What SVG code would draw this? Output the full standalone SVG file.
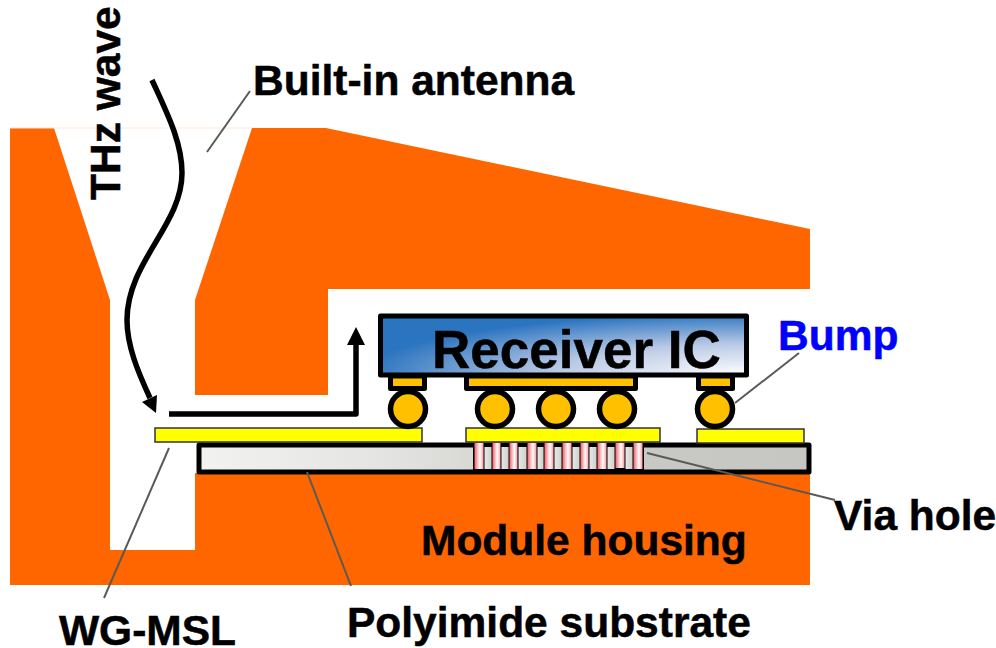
<svg xmlns="http://www.w3.org/2000/svg" width="996" height="648" viewBox="0 0 996 648">
<defs>
<radialGradient id="ic" cx="1" cy="1" r="1.05" fx="1" fy="1"><stop offset="0" stop-color="#ffffff"/><stop offset="0.5" stop-color="#b9c9e5"/><stop offset="1" stop-color="#2a74c0"/></radialGradient>
<linearGradient id="sub" x1="0" y1="0" x2="1" y2="0"><stop offset="0" stop-color="#f2f2f0"/><stop offset="0.3" stop-color="#e4e4e2"/><stop offset="0.65" stop-color="#c9cac5"/><stop offset="1" stop-color="#c6c7c2"/></linearGradient>
<linearGradient id="gap" x1="0" y1="0" x2="1" y2="0"><stop offset="0" stop-color="#e8e8e6"/><stop offset="1" stop-color="#cfcfcc"/></linearGradient>
<linearGradient id="via" x1="0" y1="0" x2="1" y2="0"><stop offset="0" stop-color="#f0606a"/><stop offset="0.6" stop-color="#ffffff"/><stop offset="1" stop-color="#f99aa0"/></linearGradient>
</defs>
<style>
text{font-family:"Liberation Sans",Arial,sans-serif;font-weight:700;fill:#000;stroke:#000;stroke-width:.5px;font-size:42.5px}
.lead{fill:none;stroke:#5a5a55;stroke-width:2}
.flow{fill:none;stroke:#000;stroke-width:5.500;stroke-linejoin:round}
.pad{fill:#ffc000;stroke:#000;stroke-width:5;stroke-linejoin:round}
.ball{fill:#ffc000;stroke:#000;stroke-width:5.500}
.msl{fill:#ff0;stroke:#333;stroke-width:1.500}
.v{fill:url(#via)}
.g{fill:url(#gap)}
</style>
<g id="module-housing">
<path d="M10,128H54L110,300V550H195V473H810V585H10Z" fill="#f60"/>
<path d="M252,128H326L810,229V289H328V395H195V300Z" fill="#f60"/>
<path d="M10,128H252" stroke="#ffe6d5" stroke-width="1" fill="none"/>
<text x="421" y="555">Module housing</text>
</g>
<g id="polyimide-substrate">
<rect x="199" y="445" width="610" height="27" fill="url(#sub)" stroke="#000" stroke-width="5" stroke-linejoin="round"/>
<rect x="473" y="444" width="171" height="26" fill="#000"/>
<g id="via-holes">
<rect class="g" x="484.500" y="447" width="7" height="22"/><rect class="g" x="501.500" y="447" width="7" height="22"/><rect class="g" x="518.500" y="447" width="8" height="22"/><rect class="g" x="537.500" y="447" width="6" height="22"/><rect class="g" x="554.500" y="447" width="7" height="22"/><rect class="g" x="572.500" y="447" width="7" height="22"/><rect class="g" x="589.500" y="447" width="7" height="22"/><rect class="g" x="607.500" y="447" width="7" height="22"/><rect class="g" x="625.500" y="447" width="7" height="22"/>
<rect class="v" x="474.500" y="443" width="9" height="26"/><rect class="v" x="492.500" y="443" width="8" height="26"/><rect class="v" x="509.500" y="443" width="8" height="26"/><rect class="v" x="527.500" y="443" width="9" height="26"/><rect class="v" x="544.500" y="443" width="9" height="26"/><rect class="v" x="562.500" y="443" width="9" height="26"/><rect class="v" x="580.500" y="443" width="8" height="26"/><rect class="v" x="597.500" y="443" width="9" height="26"/><rect class="v" x="615.500" y="443" width="9" height="25"/><rect class="v" x="633.500" y="443" width="9" height="26"/>
</g>
</g>
<g id="microstrip">
<rect class="msl" x="155" y="428" width="267" height="14"/>
<rect class="msl" x="466" y="428" width="194" height="14"/>
<rect class="msl" x="697" y="429" width="107" height="14"/>
</g>
<g id="bumps">
<rect class="pad" x="390.500" y="376" width="34" height="12.500"/>
<rect class="pad" x="466.500" y="376" width="169" height="12.500"/>
<rect class="pad" x="698.500" y="376" width="34" height="12.500"/>
<circle class="ball" cx="408" cy="409" r="17.500"/>
<circle class="ball" cx="495" cy="409" r="17.500"/>
<circle class="ball" cx="556" cy="409" r="17.500"/>
<circle class="ball" cx="617" cy="409" r="17.500"/>
<circle class="ball" cx="715" cy="409" r="17.500"/>
</g>
<g id="receiver-ic">
<rect x="380.500" y="316" width="366" height="59" fill="url(#ic)" stroke="#000" stroke-width="5" stroke-linejoin="round"/>
<text x="432" y="368" style="font-size:53px">Receiver IC</text>
</g>
<g id="connectors">
<path class="flow" d="M152,80C167,113 182,142 182,173C182,225 127,262 127,320C127,346 138,372 150,398"/>
<path d="M156,413L142,402L157,395Z" fill="#000"/>
<path class="flow" d="M169,414H356V340"/>
<path d="M356,327L347,345H365Z" fill="#000"/>
<path class="lead" d="M250,91L207,152"/>
<path class="lead" d="M799,353L735,403"/>
<path class="lead" d="M647,453L835,500"/>
<path class="lead" d="M169,448L104,598"/>
<path class="lead" d="M307,472L351,586"/>
</g>
<g id="labels">
<text transform="translate(120,200) rotate(-90)">THz wave</text>
<text x="253" y="95">Built-in antenna</text>
<text x="778" y="350" style="fill:#00f;stroke:#00f">Bump</text>
<text x="834" y="530">Via hole</text>
<text x="59" y="645">WG-MSL</text>
<text x="347" y="637">Polyimide substrate</text>
</g>
</svg>
